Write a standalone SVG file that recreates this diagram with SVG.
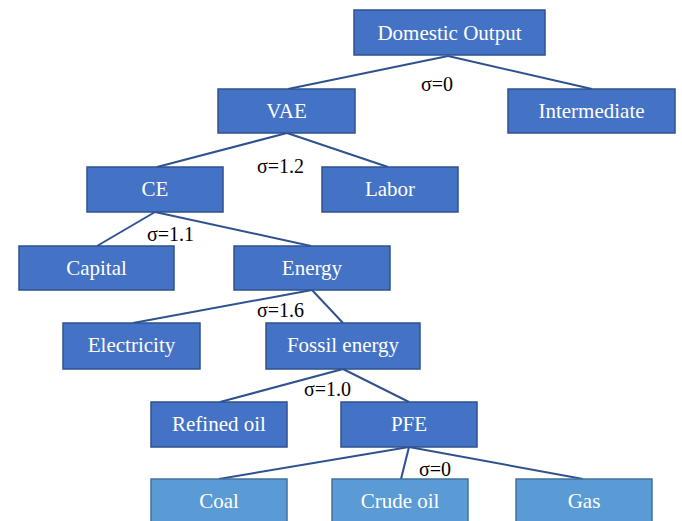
<svg xmlns="http://www.w3.org/2000/svg" width="682" height="521" viewBox="0 0 682 521">
<style>
.n rect{fill:#4472C4;stroke:#2F528F;stroke-width:1.5}
.l rect{fill:#5B9BD5;stroke:#41719C;stroke-width:1.5}
.n text,.l text{fill:#fff;font-family:"Liberation Serif","Times New Roman",serif;font-size:21px;text-anchor:middle}
.e line{stroke:#2F528F;stroke-width:2}
.s{font-family:"Liberation Serif","Times New Roman",serif;font-size:20px;fill:#000}
</style>
<rect width="682" height="521" fill="#fff"/>
<g class="e" id="connectors">
<line x1="448" y1="56" x2="288" y2="89"/>
<line x1="448" y1="56" x2="592" y2="89"/>
<line x1="287" y1="133" x2="157" y2="167"/>
<line x1="287" y1="133" x2="388" y2="167"/>
<line x1="155" y1="212" x2="97" y2="246"/>
<line x1="155" y1="212" x2="311" y2="246"/>
<line x1="312" y1="290" x2="133" y2="323"/>
<line x1="312" y1="290" x2="343" y2="323"/>
<line x1="343" y1="369" x2="220" y2="402"/>
<line x1="343" y1="369" x2="409" y2="402"/>
<line x1="409" y1="447" x2="219" y2="479"/>
<line x1="409" y1="447" x2="401" y2="479"/>
<line x1="409" y1="447" x2="583" y2="479"/>
</g>
<g id="sigmas">
<text class="s" x="421" y="91">σ=0</text>
<text class="s" x="257" y="173">σ=1.2</text>
<text class="s" x="147" y="241">σ=1.1</text>
<text class="s" x="257" y="317">σ=1.6</text>
<text class="s" x="304" y="396">σ=1.0</text>
<text class="s" x="419" y="476">σ=0</text>
</g>
<g class="n" id="domestic-output"><rect x="354" y="10" width="191" height="45"/><text x="449.5" y="39.5">Domestic Output</text></g>
<g class="n" id="vae"><rect x="218" y="89" width="137" height="44"/><text x="286.5" y="118">VAE</text></g>
<g class="n" id="intermediate"><rect x="508" y="89" width="167" height="44"/><text x="591.5" y="118">Intermediate</text></g>
<g class="n" id="ce"><rect x="87" y="167" width="136" height="45"/><text x="155" y="196">CE</text></g>
<g class="n" id="labor"><rect x="322" y="167" width="136" height="45"/><text x="390" y="196">Labor</text></g>
<g class="n" id="capital"><rect x="19" y="246" width="155" height="44"/><text x="96.5" y="275">Capital</text></g>
<g class="n" id="energy"><rect x="234" y="246" width="156" height="44"/><text x="312" y="275">Energy</text></g>
<g class="n" id="electricity"><rect x="63" y="323" width="137" height="46"/><text x="131.5" y="352">Electricity</text></g>
<g class="n" id="fossil-energy"><rect x="266" y="323" width="154" height="46"/><text x="343" y="352">Fossil energy</text></g>
<g class="n" id="refined-oil"><rect x="151" y="402" width="136" height="45"/><text x="219" y="431">Refined oil</text></g>
<g class="n" id="pfe"><rect x="341" y="402" width="136" height="45"/><text x="409" y="431">PFE</text></g>
<g class="l" id="coal"><rect x="151" y="479" width="136" height="50"/><text x="219" y="508">Coal</text></g>
<g class="l" id="crude-oil"><rect x="332" y="479" width="136" height="50"/><text x="400" y="508">Crude oil</text></g>
<g class="l" id="gas"><rect x="516" y="479" width="136" height="50"/><text x="584" y="508">Gas</text></g>
</svg>
